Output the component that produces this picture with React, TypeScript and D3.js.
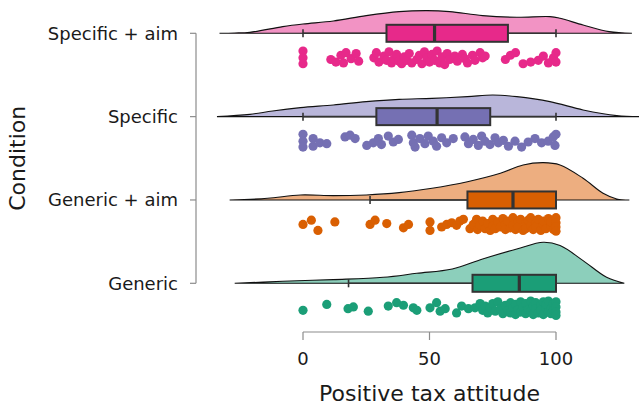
import React from "react";
import * as d3 from "d3";

const categories = ["Specific + aim", "Specific", "Generic + aim", "Generic"];
const boxColors = ["#E7298A", "#7570B3", "#D95F02", "#1B9E77"];
const densColors = ["#F293C4", "#B9B6DA", "#EDAE80", "#8CCFBB"];
const xTicks = [0, 50, 100];

const q1 = [33, 29, 65, 67];
const medians = [52, 53, 83, 85.5];
const q3 = [81, 74, 100, 100];
const whiskLo = [0, 0, 26.5, 18];
const whiskHi = [100, 100, 100, 100];

// density curves [value, density]
const densSpecAim: [number, number][] = [
  [-33, 0], [-27, 0.0003], [-21, 0.001], [-8, 0.0067], [0, 0.0093], [12, 0.0123], [25, 0.0177], [38, 0.0217],
  [49, 0.0227], [58, 0.0217], [71, 0.0177], [84.5, 0.016], [97.6, 0.0167], [101.6, 0.015], [110.7, 0.0083],
  [121, 0.0017], [130, 0],
];
const densSpec: [number, number][] = [
  [-34, 0], [-21, 0.0023], [-12, 0.0057], [-1, 0.009], [12, 0.0117], [25, 0.015], [38, 0.0173], [51, 0.0183],
  [65, 0.02], [75, 0.0217], [84.5, 0.02], [97.6, 0.015], [110.7, 0.0067], [124, 0.001], [133, 0],
];
const densGenAim: [number, number][] = [
  [-29, 0], [-14, 0.0017], [-1, 0.005], [12, 0.0043], [25, 0.005], [38, 0.0073], [51, 0.0117], [65, 0.0183],
  [78, 0.0267], [87, 0.035], [95, 0.0373], [101.6, 0.035], [110.7, 0.0217], [118.6, 0.0067], [124, 0.001], [129, 0],
];
const densGen: [number, number][] = [
  [-27, 0], [-8, 0.002], [12, 0.0037], [31.7, 0.006], [45, 0.01], [59, 0.0143], [71, 0.0243], [84.5, 0.0343],
  [95, 0.041], [101.6, 0.0377], [110.7, 0.0227], [120, 0.006], [127, 0],
];
const densities = [densSpecAim, densSpec, densGenAim, densGen];

// points [value, jitter]
const ptsSpecAim: [number, number][] = [
  [0, -0.8], [0, 0.0], [0, 0.7],
  [11, 0.2], [13, 0.5], [15, -0.3], [16, 0.6], [17, -0.6], [19, 0.1], [21, -0.5], [22, 0.4],
  [28, 0.0], [29, -0.6], [30, 0.5], [32, -0.2], [33, 0.3], [34, -0.7], [35, 0.6], [36, 0.1], [37, -0.4],
  [38, 0.4], [39, 0.7], [40, -0.1], [41, 0.3], [42, -0.5], [43, 0.6],
  [45, 0.2], [46, -0.3], [47, 0.7], [48, -0.7], [49, 0.0], [50, 0.5], [51, -0.4], [52, 0.3], [53, -0.8],
  [54, 0.6], [55, -0.1], [56, 0.8], [57, -0.5], [58, 0.2],
  [60, -0.2], [61, 0.4], [63, -0.4], [64, 0.1], [65, 0.6], [67, -0.3], [68, 0.3], [70, -0.6], [71, 0.0], [72, -0.2],
  [80, 0.2], [82, -0.3], [84, -0.6],
  [87, 0.7], [90, 0.5], [93, 0.3], [95, -0.2], [97, 0.6], [99, 0.0], [100, -0.6], [100, 0.5],
];
const ptsSpec: [number, number][] = [
  [0, -0.8], [0, 0.0], [0, 0.7], [4, -0.3], [4, 0.6], [6.7, 0.2], [9.4, 0.3],
  [16.6, -0.5], [18.6, -0.7], [20.6, -0.3], [25.2, 0.5], [27.8, 0.2], [29.8, -0.3], [31, 0.4], [33.7, -0.6],
  [35.7, 0.1], [37.7, -0.2], [43, -0.7], [43.6, 0.2], [44.3, 0.7], [46.2, -0.3], [48.2, 0.3], [49.5, -0.6],
  [51.5, 0.0], [52.8, 0.6], [54.8, -0.4], [56.8, 0.2], [59.4, -0.3], [64, -0.5], [65.4, 0.3], [67.3, -0.2],
  [69.3, 0.5], [70.6, -0.6], [71.9, 0.0], [73.9, 0.4], [75.9, -0.4], [77.2, 0.2], [79.2, -0.1], [81.2, 0.6],
  [83.8, 0.0], [86.4, 0.7], [89, 0.1], [91.7, -0.3], [94.3, 0.2], [96.9, 0.0], [98.9, -0.5], [99.6, 0.5], [100, -0.8],
];
const ptsGenAim: [number, number][] = [
  [0, 0.0], [3.3, -0.5], [5.9, 0.7], [12.6, -0.3], [26.5, 0.0], [28.5, -0.5], [33.1, -0.1], [39.7, 0.4],
  [41.7, 0.0], [50.2, -0.3], [50.2, 0.7], [54.8, 0.3], [56.8, 0.0], [58.8, -0.2], [60.7, 0.1], [62, -0.4],
  [63.4, -0.6], [66, 0.5], [67.3, 0.0], [68.6, -0.6],
  [69, 0.6], [70, 0.1], [71, -0.4], [72, 0.5], [73, -0.1], [74, 0.7], [75, -0.6], [75, 0.2], [76, 0.5],
  [77, -0.3], [78, 0.3], [79, -0.7], [80, 0.0], [80, 0.6], [81, -0.4], [82, 0.4], [83, -0.8], [83, 0.1],
  [84, 0.6], [85, -0.3], [85, 0.3], [86, -0.6], [87, 0.7], [88, -0.1], [88, 0.5], [89, -0.5], [90, 0.2],
  [90, -0.8], [91, 0.6], [92, -0.2], [92, 0.3], [93, -0.6], [94, 0.7], [95, 0.0], [95, -0.4], [96, 0.5],
  [97, -0.7], [98, 0.2], [98, -0.3], [99, 0.6], [100, -0.8], [100, -0.2], [100, 0.3], [100, 0.8],
];
const ptsGen: [number, number][] = [
  [0, 0.3], [9.4, -0.4], [17.8, 0.1], [19.9, -0.1], [25.8, 0.4], [33.7, -0.2], [37, -0.6], [39.7, -0.3],
  [43.6, 0.0], [45, 0.3], [50.2, 0.0], [52.8, -0.6], [54.2, 0.4], [56.2, 0.1], [60.7, 0.6], [62.7, -0.2],
  [65.4, 0.1], [68, 0.0], [70, -0.5],
  [71, 0.3], [72, -0.2], [73, 0.6], [74, 0.0], [75, -0.5], [76, 0.4], [77, -0.7], [78, 0.1], [79, 0.7],
  [80, -0.3], [81, 0.3], [82, -0.6], [82, 0.6], [83, 0.0], [84, -0.4], [84, 0.8], [85, 0.2], [86, -0.7],
  [86, 0.5], [87, -0.1], [88, 0.7], [88, -0.5], [89, 0.2], [90, -0.8], [90, 0.4], [91, -0.2], [91, 0.8],
  [92, -0.6], [92, 0.1], [93, 0.6], [94, -0.3], [94, 0.3], [95, -0.7], [95, 0.8], [96, 0.0], [96, -0.4],
  [97, 0.5], [97, -0.8], [98, 0.1], [98, 0.7], [99, -0.5], [99, 0.3], [100, -0.7], [100, -0.1], [100, 0.5], [100, 0.9],
];
const points = [ptsSpecAim, ptsSpec, ptsGenAim, ptsGen];

const xTitle = "Positive tax attitude";
const yTitle = "Condition";

export default function App() {
  const W = 639;
  const H = 410;
  const x = d3.scaleLinear().domain([0, 100]).range([303, 556]);
  const y = d3.scalePoint<string>().domain(categories).range([33.3, 283.3]);
  const dh = d3.scaleLinear().domain([0, 0.045]).range([0, 45]);
  const jit = d3.scaleLinear().domain([-1, 1]).range([-8.5, 8.5]);
  const ptOffset = 24.5;
  const boxHalf = 8.5;
  const font = "'DejaVu Sans', Verdana, sans-serif";
  const axisColor = "#8c8c8c";
  const textColor = "#1a1a1a";
  const dark = "#333333";

  return (
    <svg width={W} height={H} style={{ position: "absolute", left: 0, top: 0, background: "#fff" }}>
      {categories.map((c, i) => {
        const b = y(c) as number;
        const area = d3
          .area<[number, number]>()
          .x((d) => x(d[0]))
          .y0(b)
          .y1((d) => b - dh(d[1]))
          .curve(d3.curveCatmullRom);
        return (
          <g key={c}>
            <path d={area(densities[i]) || ""} fill={densColors[i]} stroke="#111" strokeWidth={1.1} />
            <line x1={x(whiskLo[i])} x2={x(whiskHi[i])} y1={b} y2={b} stroke={dark} strokeWidth={1.6} />
            <line x1={x(whiskLo[i])} x2={x(whiskLo[i])} y1={b - 4} y2={b + 4} stroke={dark} strokeWidth={1.6} />
            <line x1={x(whiskHi[i])} x2={x(whiskHi[i])} y1={b - 4} y2={b + 4} stroke={dark} strokeWidth={1.6} />
            <rect
              x={x(q1[i])}
              y={b - boxHalf}
              width={x(q3[i]) - x(q1[i])}
              height={boxHalf * 2}
              fill={boxColors[i]}
              stroke={dark}
              strokeWidth={2}
            />
            <line x1={x(medians[i])} x2={x(medians[i])} y1={b - boxHalf} y2={b + boxHalf} stroke={dark} strokeWidth={3.2} />
            {points[i].map((p, k) => (
              <circle key={k} cx={x(p[0])} cy={b + ptOffset + jit(p[1])} r={4.6} fill={boxColors[i]} />
            ))}
          </g>
        );
      })}

      {/* x axis */}
      <line x1={x(0)} x2={x(100)} y1={332} y2={332} stroke={axisColor} strokeWidth={1.2} />
      {xTicks.map((t) => (
        <g key={t}>
          <line x1={x(t)} x2={x(t)} y1={332} y2={340} stroke={axisColor} strokeWidth={1.2} />
          <text x={x(t)} y={365} textAnchor="middle" fontFamily={font} fontSize={18} fill={textColor}>
            {t}
          </text>
        </g>
      ))}
      <text x={x(50)} y={401} textAnchor="middle" fontFamily={font} fontSize={22} fill={textColor}>
        {xTitle}
      </text>

      {/* y axis */}
      <line x1={196} x2={196} y1={y(categories[0])} y2={y(categories[3])} stroke={axisColor} strokeWidth={1.2} />
      {categories.map((c) => (
        <g key={c}>
          <line x1={190} x2={196} y1={y(c)} y2={y(c)} stroke={axisColor} strokeWidth={1.2} />
          <text x={178} y={(y(c) as number) + 6.5} textAnchor="end" fontFamily={font} fontSize={18} fill={textColor}>
            {c}
          </text>
        </g>
      ))}
      <text
        transform={`translate(25,${(y(categories[0])! + y(categories[3])!) / 2}) rotate(-90)`}
        textAnchor="middle"
        fontFamily={font}
        fontSize={22}
        fill={textColor}
      >
        {yTitle}
      </text>
    </svg>
  );
}
